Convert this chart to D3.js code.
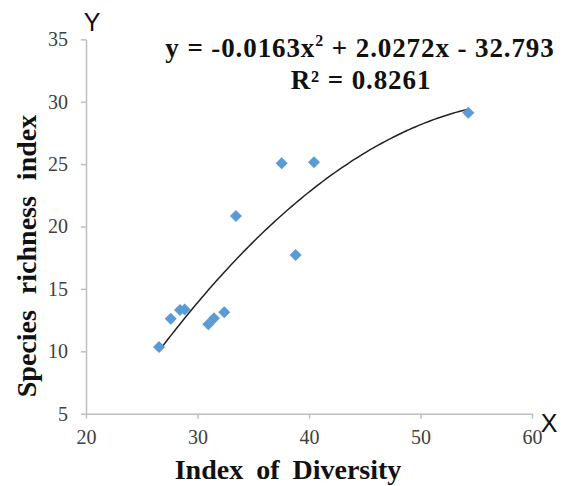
<!DOCTYPE html>
<html><head><meta charset="utf-8">
<script src="https://cdn.jsdelivr.net/npm/d3@7"></script>
<style>body{margin:0;background:#fff}svg{display:block}</style>
</head><body>
<script>
const diversity = [26.55, 27.6, 28.43, 28.85, 30.97, 31.48, 32.4, 33.45, 37.55, 38.8, 40.45, 54.29];
const richness  = [10.34, 12.6, 13.31, 13.35, 12.16, 12.64, 13.12, 20.84, 25.06, 17.72, 25.14, 29.12];
const xTicks = [20, 30, 40, 50, 60];
const yTicks = [5, 10, 15, 20, 25, 30, 35];
const equationText = "y = -0.0163x";
const equationRest = " + 2.0272x - 32.793";
const r2Text = "R² = 0.8261";

const W = 568, H = 486;
const svg = d3.select("body").append("svg").attr("width", W).attr("height", H);
const x = d3.scaleLinear().domain([20, 60]).range([86, 532]);
const y = d3.scaleLinear().domain([5, 35]).range([413.7, 39.3]);

const axisColor = "#bfbfbf";
const gx = svg.append("g").attr("transform", `translate(0,${y(5)})`)
  .call(d3.axisBottom(x).tickValues(xTicks).tickSizeInner(5).tickSizeOuter(0).tickPadding(8));
const gy = svg.append("g").attr("transform", `translate(${x(20)},0)`)
  .call(d3.axisLeft(y).tickValues(yTicks).tickSizeInner(5).tickSizeOuter(0).tickPadding(13));
[gx, gy].forEach(g => {
  g.attr("font-family", "Liberation Serif, serif").attr("font-size", 20);
  g.select(".domain").attr("stroke", axisColor).attr("stroke-width", 1.5);
  g.selectAll(".tick line").attr("stroke", axisColor).attr("stroke-width", 1.5);
  g.selectAll(".tick text").style("font-family", "'Liberation Serif', serif").style("font-size", "20px").attr("fill", "#404040");
});
gx.selectAll(".tick text").attr("dy", "0.85em");

// quadratic least-squares trendline from data
function quadFit(xs, ys) {
  let n = xs.length, S = [0,0,0,0,0], T = [0,0,0];
  for (let i = 0; i < n; i++) {
    let p = 1;
    for (let k = 0; k < 5; k++) { S[k] += p; if (k < 3) T[k] += p * ys[i]; p *= xs[i]; }
  }
  const A = [[S[0],S[1],S[2],T[0]],[S[1],S[2],S[3],T[1]],[S[2],S[3],S[4],T[2]]];
  for (let i = 0; i < 3; i++) {
    for (let j = i+1; j < 3; j++) {
      const f = A[j][i] / A[i][i];
      for (let k = i; k < 4; k++) A[j][k] -= f * A[i][k];
    }
  }
  const c = [0,0,0];
  for (let i = 2; i >= 0; i--) {
    let s = A[i][3];
    for (let k = i+1; k < 3; k++) s -= A[i][k] * c[k];
    c[i] = s / A[i][i];
  }
  return c;
}
const c = quadFit(diversity, richness);
const xmin = d3.min(diversity), xmax = d3.max(diversity);
const curve = d3.range(0, 101).map(i => { const xv = xmin + (xmax - xmin) * i / 100; return [xv, c[0] + c[1]*xv + c[2]*xv*xv]; });
svg.append("path").datum(curve)
  .attr("d", d3.line().x(d => x(d[0])).y(d => y(d[1])))
  .attr("fill", "none").attr("stroke", "#222").attr("stroke-width", 1.5);

// markers
const pts = diversity.map((d, i) => [d, richness[i]]);
svg.append("g").selectAll("path").data(pts).join("path")
  .attr("transform", d => `translate(${x(d[0])},${y(d[1])})`)
  .attr("d", "M0,-6L6,0L0,6L-6,0Z")
  .attr("fill", "#5b9bd5");

// equation
const eq = svg.append("text").attr("x", 360).attr("y", 57).attr("text-anchor", "middle")
  .attr("font-family", "Liberation Serif, serif").attr("font-weight", "bold").attr("font-size", 27)
  .attr("letter-spacing", 0.9).attr("fill", "#111");
eq.append("tspan").text(equationText);
eq.append("tspan").attr("font-size", 16).attr("dy", -11).text("2");
eq.append("tspan").attr("dy", 11).text(equationRest);
svg.append("text").attr("x", 361).attr("y", 89).attr("text-anchor", "middle")
  .attr("font-family", "Liberation Serif, serif").attr("font-weight", "bold").attr("font-size", 27)
  .attr("letter-spacing", 0.9).attr("fill", "#111")
  .text(r2Text);

// axis titles
svg.append("text").attr("x", 288).attr("y", 479).attr("text-anchor", "middle")
  .attr("font-family", "Liberation Serif, serif").attr("font-weight", "bold").attr("font-size", 28)
  .attr("fill", "#111").attr("word-spacing", 6).text("Index of Diversity");
svg.append("text").attr("transform", "translate(36,256) rotate(-90)").attr("text-anchor", "middle")
  .attr("font-family", "Liberation Serif, serif").attr("font-weight", "bold").attr("font-size", 28)
  .attr("fill", "#111").attr("word-spacing", 9).text("Species richness index");

// axis letters
svg.append("text").attr("x", 92).attr("y", 31).attr("text-anchor", "middle")
  .attr("font-family", "Liberation Sans, sans-serif").attr("font-size", 25).attr("fill", "#111").text("Y");
svg.append("text").attr("x", 549).attr("y", 432).attr("text-anchor", "middle")
  .attr("font-family", "Liberation Sans, sans-serif").attr("font-size", 25).attr("fill", "#111").text("X");
</script>
</body></html>
